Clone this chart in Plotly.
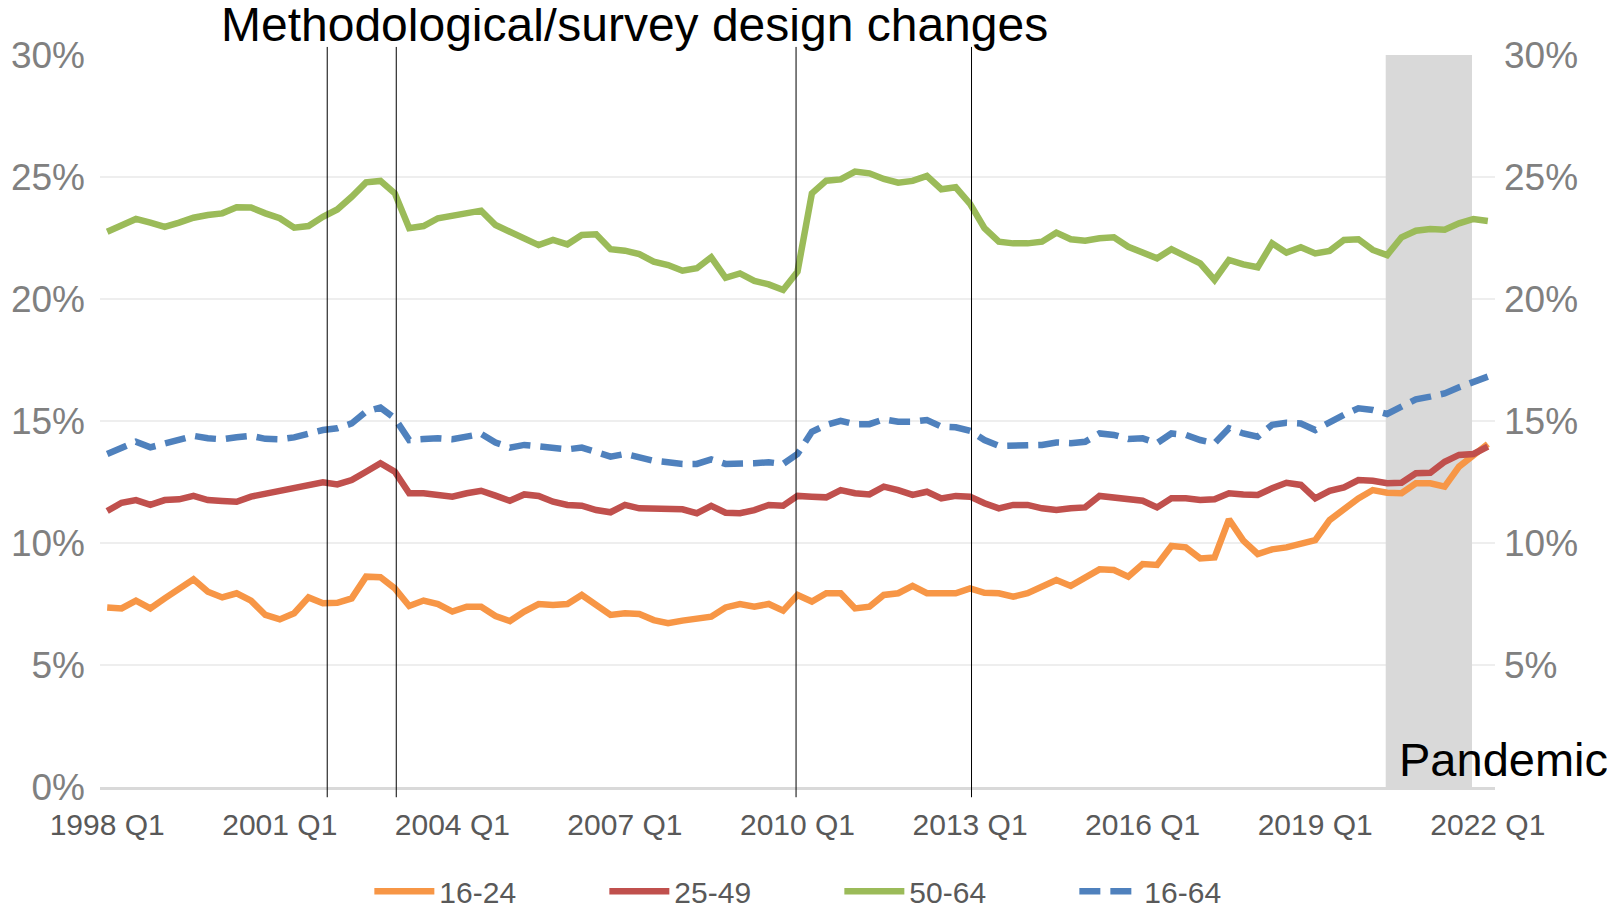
import plotly.graph_objects as go

quarters = [f"{y} Q{q}" for y in range(1998, 2023) for q in range(1, 5)][:97]
tick_labels = ["1998 Q1", "2001 Q1", "2004 Q1", "2007 Q1", "2010 Q1",
               "2013 Q1", "2016 Q1", "2019 Q1", "2022 Q1"]
y_ticks = [0, 5, 10, 15, 20, 25, 30]
y_tick_text = ["0%", "5%", "10%", "15%", "20%", "25%", "30%"]
# right-hand axis leaves 0% blank (the "Pandemic" label sits there)
y2_tick_text = ["", "5%", "10%", "15%", "20%", "25%", "30%"]

age_16_24 = [7.36, 7.32, 7.64, 7.32, 7.73, 8.14, 8.51, 8.00, 7.77, 7.94,
             7.64, 7.05, 6.87, 7.12, 7.77, 7.53, 7.55, 7.73, 8.62, 8.60,
             8.14, 7.42, 7.64, 7.50, 7.19, 7.39, 7.39, 7.01, 6.80, 7.19,
             7.50, 7.46, 7.50, 7.87, 7.42, 7.05, 7.12, 7.09, 6.84, 6.71,
             6.82, 6.87, 6.98, 7.36, 7.50, 7.39, 7.50, 7.23, 7.87, 7.60,
             7.94, 7.94, 7.32, 7.39, 7.87, 7.94, 8.24, 7.94, 7.94, 7.94,
             8.14, 7.96, 7.94, 7.80, 7.94, 8.21, 8.48, 8.24, 8.59, 8.92,
             8.89, 8.62, 9.14, 9.10, 9.88, 9.82, 9.37, 9.41, 10.97, 10.10,
             9.55, 9.74, 9.82, 9.99, 10.12, 10.94, 11.38, 11.83, 12.17, 12.06,
             12.04, 12.45, 12.45, 12.31, 13.13, 13.61, 14.06]

age_25_49 = [11.31, 11.65, 11.76, 11.56, 11.76, 11.79, 11.93, 11.76, 11.72, 11.69,
             11.90, 12.01, 12.10, 12.24, 12.38, 12.49, 12.40, 12.58, 12.92, 13.27,
             12.92, 12.04, 12.04, 11.94, 11.90, 12.04, 12.14, 11.94, 11.73, 11.99,
             11.93, 11.69, 11.56, 11.53, 11.35, 11.26, 11.56, 11.42, 11.42, 11.42,
             11.38, 11.22, 11.52, 11.24, 11.22, 11.35, 11.56, 11.53, 11.93, 11.90,
             11.87, 12.17, 12.04, 11.99, 12.31, 12.17, 11.97, 12.10, 11.83, 11.93,
             11.90, 11.63, 11.42, 11.56, 11.56, 11.42, 11.35, 11.42, 11.46, 11.93,
             11.86, 11.82, 11.73, 11.46, 11.83, 11.83, 11.76, 11.79, 12.04, 11.99,
             11.97, 12.24, 12.47, 12.38, 11.83, 12.14, 12.28, 12.58, 12.55, 12.45,
             12.47, 12.86, 12.88, 13.33, 13.61, 13.65, 13.95]

age_50_64 = [22.76, 23.03, 23.28, 23.13, 22.96, 23.13, 23.33, 23.44, 23.51, 23.76,
             23.75, 23.51, 23.31, 22.92, 22.99, 23.37, 23.67, 24.19, 24.78, 24.84,
             24.33, 22.90, 22.99, 23.31, 23.41, 23.51, 23.62, 23.03, 22.76, 22.45,
             22.21, 22.42, 22.24, 22.62, 22.65, 22.04, 21.98, 21.84, 21.53, 21.39,
             21.16, 21.26, 21.71, 20.87, 21.05, 20.74, 20.60, 20.37, 21.12, 24.33,
             24.85, 24.90, 25.22, 25.15, 24.92, 24.77, 24.84, 25.04, 24.50, 24.58,
             23.90, 22.90, 22.35, 22.28, 22.28, 22.35, 22.72, 22.45, 22.39, 22.49,
             22.53, 22.14, 21.94, 21.67, 22.04, 21.76, 21.46, 20.78, 21.60, 21.42,
             21.30, 22.28, 21.90, 22.12, 21.87, 21.97, 22.42, 22.45, 22.01, 21.80,
             22.53, 22.80, 22.87, 22.84, 23.10, 23.28, 23.20]

age_16_64 = [13.65, 13.91, 14.15, 13.92, 14.09, 14.22, 14.39, 14.29, 14.25, 14.33,
             14.39, 14.27, 14.25, 14.33, 14.49, 14.63, 14.70, 14.90, 15.38, 15.55,
             15.11, 14.22, 14.26, 14.29, 14.25, 14.39, 14.47, 14.12, 13.91, 14.02,
             13.98, 13.88, 13.84, 13.91, 13.74, 13.54, 13.65, 13.51, 13.37, 13.31,
             13.24, 13.24, 13.43, 13.24, 13.24, 13.27, 13.31, 13.24, 13.65, 14.56,
             14.84, 15.01, 14.86, 14.87, 15.07, 14.97, 14.97, 15.04, 14.77, 14.74,
             14.60, 14.22, 13.98, 13.99, 14.02, 14.02, 14.12, 14.09, 14.15, 14.49,
             14.43, 14.26, 14.29, 14.09, 14.49, 14.43, 14.22, 14.09, 14.70, 14.49,
             14.36, 14.84, 14.93, 14.90, 14.63, 14.97, 15.25, 15.52, 15.45, 15.29,
             15.59, 15.89, 16.00, 16.13, 16.38, 16.57, 16.82]

# positions of the survey-change markers and the pandemic band (quarter index)
change_points = [15.3, 20.1, 47.9, 60.1]
pandemic_band = (88.9, 94.9)

FONT = "Arial, Liberation Sans, sans-serif"

series = [
    ("16-24", age_16_24, "#F79646", "solid"),
    ("25-49", age_25_49, "#C0504D", "solid"),
    ("50-64", age_50_64, "#9BBB59", "solid"),
    ("16-64", age_16_64, "#4F81BD", "21px,10px"),
]

fig = go.Figure()
for name, vals, color, dash in series:
    fig.add_trace(go.Scatter(
        x=quarters, y=vals, mode="lines", name=name,
        line=dict(color=color, width=6.5, dash=dash),
        hovertemplate="%{x}: %{y:.1f}%<extra>" + name + "</extra>"
    ))

# invisible copy so the right-hand axis is drawn
fig.add_trace(go.Scatter(
    x=quarters, y=age_16_64, yaxis="y2", mode="lines",
    line=dict(width=0), opacity=0, showlegend=False, hoverinfo="skip"
))

fig.add_shape(type="rect", xref="x", yref="y",
              x0=pandemic_band[0], x1=pandemic_band[1], y0=0, y1=30,
              fillcolor="#d9d9d9", line=dict(width=0), layer="between")

for xp in change_points:
    fig.add_shape(type="line", xref="x", yref="paper",
                  x0=xp, x1=xp, y0=-0.014, y1=1.011,
                  line=dict(color="black", width=1), layer="above")

fig.add_annotation(text="Methodological/survey design changes",
                   xref="paper", yref="paper", x=0.085, y=1.042,
                   xanchor="left", yanchor="middle", showarrow=False,
                   font=dict(family=FONT, size=48, color="black"))
fig.add_annotation(text="Pandemic",
                   xref="paper", yref="paper", x=1.0825, y=0.037,
                   xanchor="right", yanchor="middle", showarrow=False,
                   font=dict(family=FONT, size=47, color="black"))

yaxis_common = dict(
    range=[0, 30], tickmode="array", tickvals=y_ticks,
    tickfont=dict(family=FONT, size=37, color="#808080"),
    zeroline=False, fixedrange=True, automargin=False,
)

# the page body adds an 8px offset, so the figure is 8px smaller
fig.update_layout(
    width=1607, height=905,
    margin=dict(l=92, r=120, t=47, b=126),
    plot_bgcolor="white", paper_bgcolor="white",
    font=dict(family=FONT),
    xaxis=dict(
        type="category", categoryorder="array", categoryarray=quarters,
        range=[-0.5, 96.5], tickmode="array", tickvals=tick_labels,
        tickfont=dict(family=FONT, size=30, color="#595959"),
        showgrid=False, showline=True, linecolor="#d9d9d9", linewidth=3,
        ticks="", ticklabelstandoff=9, automargin=False,
    ),
    yaxis=dict(**yaxis_common, side="left", ticktext=y_tick_text,
               ticklabelstandoff=14,
               showgrid=True, gridcolor="#eeeeee", gridwidth=2),
    yaxis2=dict(**yaxis_common, side="right", overlaying="y",
                ticktext=y2_tick_text, ticklabelstandoff=8, showgrid=False),
    legend=dict(
        orientation="h", x=0.53, xanchor="center",
        yref="container", y=0.024, yanchor="middle",
        font=dict(family=FONT, size=30, color="#595959"),
        entrywidth=160, itemwidth=60,
    ),
    showlegend=True,
)

fig.write_html("out.html")
